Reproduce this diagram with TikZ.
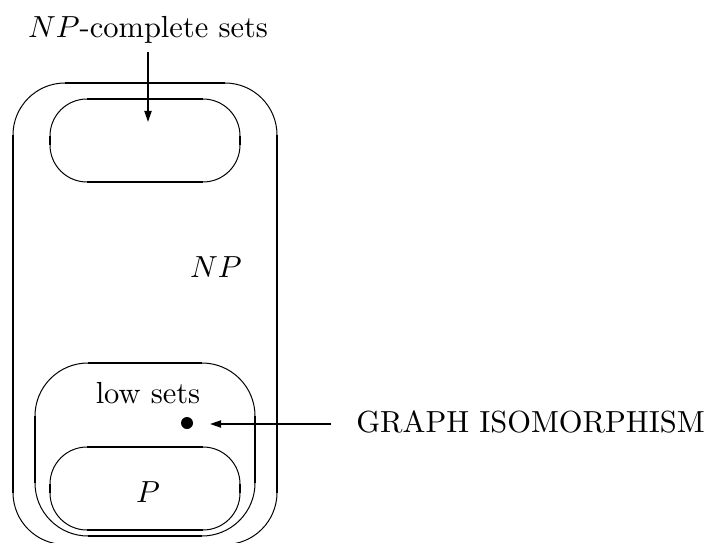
\documentclass[tikz,border=0pt]{standalone}
\usepackage{graphicx}
\usetikzlibrary{arrows.meta}
\newcommand{\bigtxt}[1]{\scalebox{3.05}{#1}}
% rounded box: thin arcs, thick straight sides
% #1=L, #2=T, #3=R, #4=B, #5=r, #6=vertical width, #7=horizontal width
\newcommand{\roundbox}[7]{%
  \draw[arcline] ({#1},{#2-#5}) arc[start angle=180, end angle=90, radius=#5];
  \draw[arcline] ({#3-#5},{#2}) arc[start angle=90, end angle=0, radius=#5];
  \draw[arcline] ({#3},{#4+#5}) arc[start angle=0, end angle=-90, radius=#5];
  \draw[arcline] ({#1+#5},{#4}) arc[start angle=270, end angle=180, radius=#5];
  \draw[line width=#7] ({#1+#5},{#2}) -- ({#3-#5},{#2});
  \draw[line width=#7] ({#1+#5},{#4}) -- ({#3-#5},{#4});
  \draw[line width=#6] ({#1},{#2-#5}) -- ({#1},{#4+#5});
  \draw[line width=#6] ({#3},{#2-#5}) -- ({#3},{#4+#5});
}
\tikzset{
  arcline/.style={line width=1pt},
  lbl/.style={inner sep=0pt, anchor=base},
  arr/.style={line width=1.8pt, -{Triangle[length=11pt,width=7pt]}},
}
\begin{document}
\begin{tikzpicture}[x=1pt,y=1pt]
\useasboundingbox (0,0) rectangle (709,542);
% outer NP box (its bottom edge lies just below the picture)
\roundbox{13}{459}{277}{-2.5}{52}{2.7pt}{2.2pt}
% NP-complete box
\roundbox{50}{443}{240}{360}{37}{2.4pt}{2.2pt}
% low sets box
\roundbox{35}{179}{255}{6}{53}{2.4pt}{2.3pt}
% P box
\roundbox{50}{95}{240}{12}{37}{2.4pt}{2.2pt}
% labels
\node[lbl] (npc) at (148,504) {\bigtxt{$NP$-complete sets}};
\node[lbl] (np) at (216,265) {\bigtxt{$NP$}};
\node[lbl] (low) at (148,139) {\bigtxt{low sets}};
\node[lbl] (p) at (148,40) {\bigtxt{$P$}};
\node[lbl] (gi) at (530.5,110) {\bigtxt{GRAPH ISOMORPHISM}};
% graph isomorphism point
\node[circle, fill=black, inner sep=0pt, minimum size=12pt] (gidot) at (187,119) {};
% arrows
\coordinate (npcA) at (148,490);
\coordinate (npcB) at (148,420);
\draw[arr] (npcA) -- (npcB);
\coordinate (giA) at (331,118);
\coordinate (giB) at (210,118);
\draw[arr] (giA) -- (giB);
\end{tikzpicture}
\end{document}
